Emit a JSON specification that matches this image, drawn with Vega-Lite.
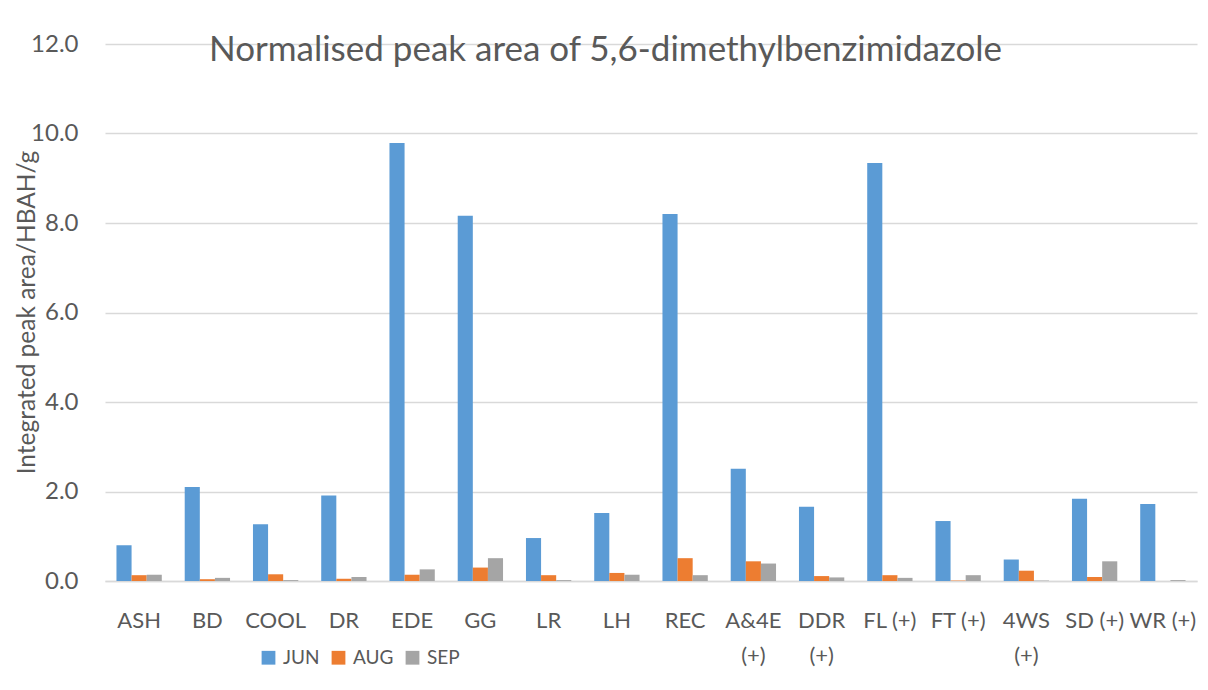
{
  "$schema": "https://vega.github.io/schema/vega-lite/v6.json",
  "width": 1092,
  "height": 537,
  "autosize": {"type": "none"},
  "padding": {"left": 105, "top": 44, "right": 11, "bottom": 109},
  "background": "white",
  "title": {
    "text": "Normalised peak area of 5,6-dimethylbenzimidazole",
    "font": "Lato",
    "fontSize": 35,
    "fontWeight": "normal",
    "color": "#595959",
    "anchor": "middle",
    "frame": "bounds",
    "offset": -36
  },
  "data": {
    "values": [
      {"site": "ASH", "month": "JUN", "value": 0.80},
      {"site": "ASH", "month": "AUG", "value": 0.13},
      {"site": "ASH", "month": "SEP", "value": 0.14},
      {"site": "BD", "month": "JUN", "value": 2.10},
      {"site": "BD", "month": "AUG", "value": 0.04},
      {"site": "BD", "month": "SEP", "value": 0.07},
      {"site": "COOL", "month": "JUN", "value": 1.27},
      {"site": "COOL", "month": "AUG", "value": 0.15},
      {"site": "COOL", "month": "SEP", "value": 0.02},
      {"site": "DR", "month": "JUN", "value": 1.91},
      {"site": "DR", "month": "AUG", "value": 0.05},
      {"site": "DR", "month": "SEP", "value": 0.09},
      {"site": "EDE", "month": "JUN", "value": 9.79},
      {"site": "EDE", "month": "AUG", "value": 0.14},
      {"site": "EDE", "month": "SEP", "value": 0.26},
      {"site": "GG", "month": "JUN", "value": 8.16},
      {"site": "GG", "month": "AUG", "value": 0.30},
      {"site": "GG", "month": "SEP", "value": 0.51},
      {"site": "LR", "month": "JUN", "value": 0.96},
      {"site": "LR", "month": "AUG", "value": 0.13},
      {"site": "LR", "month": "SEP", "value": 0.02},
      {"site": "LH", "month": "JUN", "value": 1.52},
      {"site": "LH", "month": "AUG", "value": 0.18},
      {"site": "LH", "month": "SEP", "value": 0.14},
      {"site": "REC", "month": "JUN", "value": 8.20},
      {"site": "REC", "month": "AUG", "value": 0.51},
      {"site": "REC", "month": "SEP", "value": 0.13},
      {"site": "A&4E (+)", "month": "JUN", "value": 2.51},
      {"site": "A&4E (+)", "month": "AUG", "value": 0.44},
      {"site": "A&4E (+)", "month": "SEP", "value": 0.39},
      {"site": "DDR (+)", "month": "JUN", "value": 1.66},
      {"site": "DDR (+)", "month": "AUG", "value": 0.11},
      {"site": "DDR (+)", "month": "SEP", "value": 0.08},
      {"site": "FL (+)", "month": "JUN", "value": 9.34},
      {"site": "FL (+)", "month": "AUG", "value": 0.13},
      {"site": "FL (+)", "month": "SEP", "value": 0.07},
      {"site": "FT (+)", "month": "JUN", "value": 1.34},
      {"site": "FT (+)", "month": "AUG", "value": 0.01},
      {"site": "FT (+)", "month": "SEP", "value": 0.13},
      {"site": "4WS (+)", "month": "JUN", "value": 0.48},
      {"site": "4WS (+)", "month": "AUG", "value": 0.23},
      {"site": "4WS (+)", "month": "SEP", "value": 0.01},
      {"site": "SD (+)", "month": "JUN", "value": 1.84},
      {"site": "SD (+)", "month": "AUG", "value": 0.09},
      {"site": "SD (+)", "month": "SEP", "value": 0.44},
      {"site": "WR (+)", "month": "JUN", "value": 1.72},
      {"site": "WR (+)", "month": "AUG", "value": 0.00},
      {"site": "WR (+)", "month": "SEP", "value": 0.02}
    ]
  },
  "mark": {"type": "bar"},
  "encoding": {
    "x": {
      "field": "site",
      "type": "nominal",
      "sort": null,
      "scale": {"paddingInner": 0.336, "paddingOuter": 0.168},
      "axis": {
        "title": null,
        "labelAngle": 0,
        "labelFont": "Lato",
        "labelFontSize": 22,
        "labelColor": "#595959",
        "labelPadding": 29,
        "labelLineHeight": 35,
        "labelBaseline": "top",
        "ticks": false,
        "domainColor": "#d9d9d9",
        "domainWidth": 1.3,
        "labelExpr": "indexof(['A&4E (+)','DDR (+)','4WS (+)'], datum.value) >= 0 ? split(datum.value, ' ') : datum.value"
      }
    },
    "xOffset": {
      "field": "month",
      "type": "nominal",
      "sort": ["JUN", "AUG", "SEP"],
      "scale": {"paddingInner": 0, "paddingOuter": 0}
    },
    "y": {
      "field": "value",
      "type": "quantitative",
      "scale": {"domain": [0, 12], "nice": false},
      "axis": {
        "title": "Integrated peak area/HBAH/g",
        "titleFont": "Lato",
        "titleFontSize": 24.5,
        "titleFontWeight": "normal",
        "titleColor": "#595959",
        "titleX": -78,
        "titleY": 268,
        "titleAngle": -90,
        "titleAlign": "center",
        "titleBaseline": "middle",
        "values": [0, 2, 4, 6, 8, 10, 12],
        "format": ".1f",
        "labelFont": "Lato",
        "labelFontSize": 24,
        "labelColor": "#595959",
        "labelPadding": 27,
        "ticks": false,
        "domain": false,
        "gridColor": "#d9d9d9",
        "gridWidth": 1.3
      }
    },
    "color": {
      "field": "month",
      "type": "nominal",
      "sort": ["JUN", "AUG", "SEP"],
      "scale": {"domain": ["JUN", "AUG", "SEP"], "range": ["#5B9BD5", "#ED7D31", "#A5A5A5"]},
      "legend": {
        "title": null,
        "orient": "none",
        "direction": "horizontal",
        "legendX": 154,
        "legendY": 604,
        "symbolType": "square",
        "symbolSize": 190,
        "symbolStrokeWidth": 0,
        "labelFont": "Lato",
        "labelFontSize": 19,
        "labelColor": "#595959",
        "labelOffset": 5,
        "columnPadding": 9
      }
    }
  },
  "config": {
    "view": {"stroke": null}
  }
}
